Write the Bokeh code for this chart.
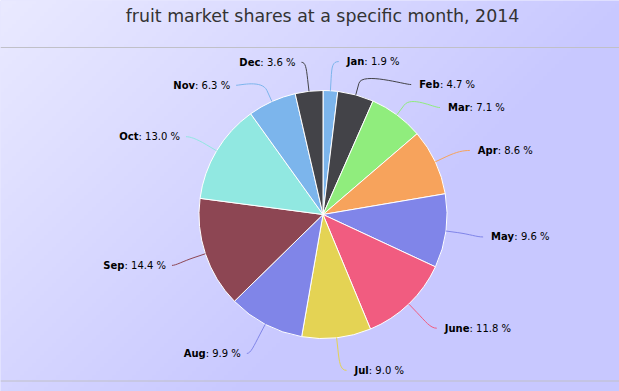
import numpy as np
from bokeh.plotting import figure
from bokeh.models import Range1d, Span
from bokeh.core.properties import value
from bokeh.embed import file_html
from bokeh.resources import INLINE

# ---- data ----
months = ["Jan", "Feb", "Mar", "Apr", "May", "June", "Jul", "Aug", "Sep", "Oct", "Nov", "Dec"]
shares = [1.9, 4.7, 7.1, 8.6, 9.6, 11.8, 9.0, 9.9, 14.4, 13.0, 6.3, 3.6]
colors = ["#7cb5ec", "#434348", "#90ed7d", "#f7a35c", "#8085e9", "#f15c80",
          "#e4d354", "#8085e8", "#8d4653", "#91e8e1", "#7cb5ec", "#434348"]
title_text = "fruit market shares at a specific month, 2014"

# ---- layout (screen pixel space of the reference, y downwards) ----
W, H = 619, 391
CX, CY, R = 322.5, 214.0, 124.0
LDIST = R + 31.0          # label distance radius
SOFF = R + 12.0           # connector second break
MIN_GAP = 23.0
FS = 10                   # label font px

def Y(v):
    return H - np.asarray(v, dtype=float)

# approximate DejaVu Sans advance widths (units / 2048)
REG = {" ": 651, ":": 690, ".": 651, "%": 1946}
for d in "0123456789":
    REG[d] = 1303
BOLD = {"a": 1382, "b": 1466, "c": 1214, "e": 1389, "l": 702, "n": 1458, "o": 1407,
        "p": 1466, "r": 1010, "t": 979, "u": 1458, "v": 1335, "y": 1335, "g": 1466,
        "A": 1585, "D": 1696, "F": 1405, "J": 762, "M": 2040, "N": 1704, "O": 1741, "S": 1479}

def tw(s, table):
    return sum(table.get(ch, 1300) for ch in s) / 2048.0 * FS

p = figure(width=W, height=H, x_range=Range1d(0, W), y_range=Range1d(0, H),
           toolbar_location=None, output_backend="svg", min_border=0)
p.axis.visible = False
p.grid.visible = False
p.outline_line_color = None
p.background_fill_color = "#d0d0ff"
p.border_fill_color = "#d0d0ff"

# gradient background
nx, ny = 155, 98
xs = (np.arange(nx) + 0.5) * W / nx
ysd = (np.arange(ny) + 0.5) * H / ny
XX, YY = np.meshgrid(xs, H - ysd)
t = np.clip((XX + YY) / 640.0, 0, 1)
c = (234 - 34 * t).astype(np.uint8)
img = np.zeros((ny, nx), dtype=np.uint32)
view = img.view(dtype=np.uint8).reshape((ny, nx, 4))
view[:, :, 0] = c
view[:, :, 1] = c
view[:, :, 2] = 255
view[:, :, 3] = 255
p.image_rgba(image=[img], x=0, y=0, dw=W, dh=H)

p.add_layout(Span(location=H - 47, dimension="width", line_color="#c0c0c8", line_width=1))
p.add_layout(Span(location=H - 380.5, dimension="width", line_color="#c0c0c8", line_width=1))

# wedges
vals = np.array(shares)
total = vals.sum()
cum = np.concatenate([[0], np.cumsum(vals)]) / total
fs, fe = cum[:-1], cum[1:]
p.wedge(x=CX, y=H - CY, radius=R, start_angle=np.pi / 2 - 2 * np.pi * fs,
        end_angle=np.pi / 2 - 2 * np.pi * fe, direction="clock",
        fill_color=colors, line_color="white", line_width=1)

# labels
mid = (fs + fe) / 2
theta = -np.pi / 2 + 2 * np.pi * mid
side = np.where(mid < 0.5, 1, -1)
ylab = CY + LDIST * np.sin(theta)
for s in (1, -1):
    idx = [i for i in range(len(months)) if side[i] == s]
    idx.sort(key=lambda i: ylab[i])
    prev = -1e9
    for i in idx:
        if ylab[i] < prev + MIN_GAP:
            ylab[i] = prev + MIN_GAP
        prev = ylab[i]

def getx(y, s):
    return CX + s * np.sqrt(np.maximum(LDIST ** 2 - (y - CY) ** 2, 0))

gx = np.array([getx(ylab[i], side[i]) for i in range(len(months))])
yl = ylab + 1.8
bx, by = CX + R * np.cos(theta), CY + R * np.sin(theta)
sx, sy = CX + SOFF * np.cos(theta), CY + SOFF * np.sin(theta)
ex = gx + np.where(side > 0, 6.5, 4.0) * side
p.bezier(x0=ex, y0=Y(yl), x1=sx, y1=Y(sy), cx0=gx, cy0=Y(yl),
         cx1=2 * sx - bx, cy1=Y(2 * sy - by), line_color=colors, line_width=1)
p.segment(x0=sx, y0=Y(sy), x1=bx, y1=Y(by), line_color=colors, line_width=1)

rest = [": %.1f %%" % v for v in shares]
tx = gx + np.where(side > 0, 14.5, 10.0) * side
name_x, rest_x = [], []
for i in range(len(months)):
    if side[i] > 0:
        name_x.append(tx[i])
        rest_x.append(tx[i] + tw(months[i], BOLD))
    else:
        rest_x.append(tx[i])
        name_x.append(tx[i] - tw(rest[i], REG))
ra = ["left" if s > 0 else "right" for s in side]
font = value("DejaVu Sans")
p.text(x=name_x, y=Y(yl), text=months, text_align=ra, text_baseline="middle",
       text_font=font, text_font_size="%dpx" % FS, text_font_style="bold", text_color="#000000")
p.text(x=rest_x, y=Y(yl), text=rest, text_align=ra, text_baseline="middle",
       text_font=font, text_font_size="%dpx" % FS, text_color="#000000")

p.text(x=[322], y=Y([15]), text=[title_text], text_align="center", text_baseline="middle",
       text_font=font, text_font_size="17.4px", text_color="#333333")

open("out.html", "w").write(file_html(p, INLINE))
